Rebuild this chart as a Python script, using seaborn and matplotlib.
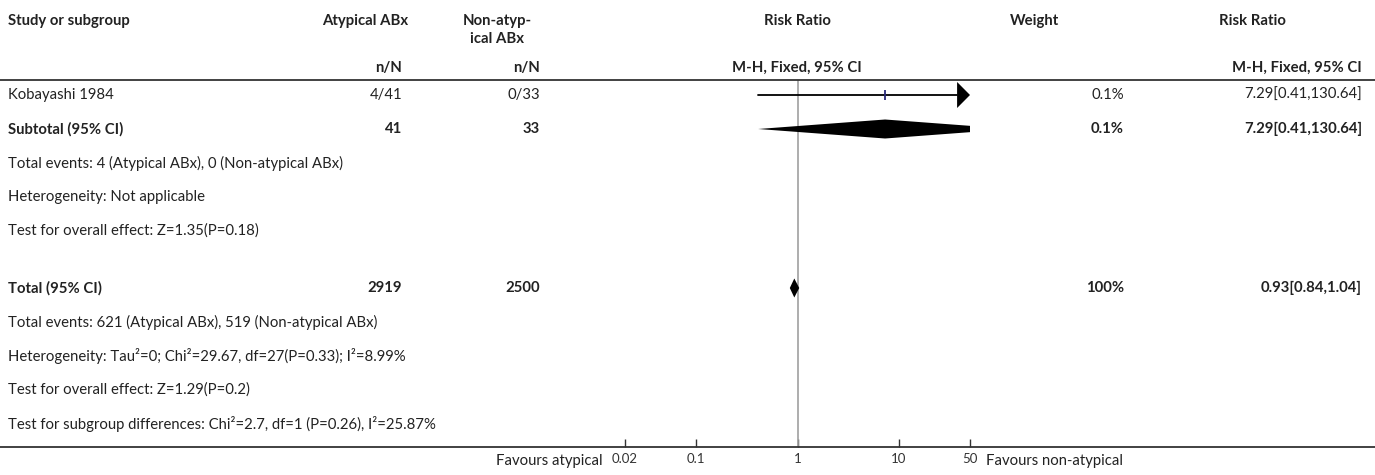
import matplotlib
matplotlib.use("Agg")
import matplotlib.pyplot as plt
import seaborn as sns
import numpy as np
import pandas as pd
from matplotlib.lines import Line2D

sns.set_theme(style="white")
plt.rcParams['font.family'] = ['Lato', 'DejaVu Sans']

# ---------------- data ----------------
studies = ["Kobayashi 1984"]
atyp_events = [4]
atyp_total = [41]
non_events = [0]
non_total = [33]
study_rr = [7.29]
study_lo = [0.41]
study_hi = [130.64]
study_weight = ["0.1%"]

subtotal_n = [41, 33]
subtotal_rr = [7.29, 0.41, 130.64]
subtotal_weight = "0.1%"

total_n = [2919, 2500]
total_rr = [0.93, 0.84, 1.04]
total_weight = "100%"

tick_values = [0.02, 0.1, 1, 10, 50]
tick_labels = ["0.02", "0.1", "1", "10", "50"]

subtotal_notes = ["Total events: 4 (Atypical ABx), 0 (Non-atypical ABx)",
                  "Heterogeneity: Not applicable",
                  "Test for overall effect: Z=1.35(P=0.18)"]
total_notes = ["Total events: 621 (Atypical ABx), 519 (Non-atypical ABx)",
               "Heterogeneity: Tau\u00b2=0; Chi\u00b2=29.67, df=27(P=0.33); I\u00b2=8.99%",
               "Test for overall effect: Z=1.29(P=0.2)",
               "Test for subgroup differences: Chi\u00b2=2.7, df=1 (P=0.26), I\u00b2=25.87%"]

# ---------------- layout ----------------
W, H = 1375, 475
fig = plt.figure(figsize=(W / 100, H / 100), dpi=100)
FS = 10.7
TXT = "#222222"

def ftext(x, y, s, ha="left", bold=False, **kw):
    fig.text(x / W, 1 - y / H, s, ha=ha, va="center", fontsize=FS,
             fontweight="bold" if bold else "normal", color=TXT, **kw)

def hline(y, x0=0, x1=W, lw=1.3):
    fig.add_artist(Line2D([x0 / W, x1 / W], [1 - y / H, 1 - y / H],
                          transform=fig.transFigure, color="#333333", lw=lw))

COL_STUDY = 8
COL_A = 402
COL_B = 540
COL_W = 1124
COL_RR = 1362
PLOT_X0, PLOT_X1 = 625, 970
TOP_Y, BOT_Y = 80, 447

# headers
ftext(COL_STUDY, 21, "Study or subgroup", bold=True)
ftext(365, 21, "Atypical ABx", ha="center", bold=True)
ftext(497, 21, "Non-atyp-", ha="center", bold=True)
ftext(497, 39, "ical ABx", ha="center", bold=True)
ftext(797, 21, "Risk Ratio", ha="center", bold=True)
ftext(1034, 21, "Weight", ha="center", bold=True)
ftext(1252, 21, "Risk Ratio", ha="center", bold=True)
ftext(COL_A, 68, "n/N", ha="right", bold=True)
ftext(COL_B, 68, "n/N", ha="right", bold=True)
ftext(797, 68, "M-H, Fixed, 95% CI", ha="center", bold=True)
ftext(COL_RR, 68, "M-H, Fixed, 95% CI", ha="right", bold=True)
hline(TOP_Y)
hline(BOT_Y)

row_y = [95]
sub_y = 129
sub_note_y = [163, 197, 231]
tot_y = 288
tot_note_y = [322, 356, 390, 424]

for i, s in enumerate(studies):
    ftext(COL_STUDY, row_y[i], s)
    ftext(COL_A, row_y[i], f"{atyp_events[i]}/{atyp_total[i]}", ha="right")
    ftext(COL_B, row_y[i], f"{non_events[i]}/{non_total[i]}", ha="right")
    ftext(COL_W, row_y[i], study_weight[i], ha="right")
    ftext(COL_RR, row_y[i], f"{study_rr[i]}[{study_lo[i]},{study_hi[i]}]", ha="right")

ftext(COL_STUDY, sub_y, "Subtotal (95% CI)", bold=True)
ftext(COL_A, sub_y, str(subtotal_n[0]), ha="right", bold=True)
ftext(COL_B, sub_y, str(subtotal_n[1]), ha="right", bold=True)
ftext(COL_W, sub_y, subtotal_weight, ha="right", bold=True)
ftext(COL_RR, sub_y, f"{subtotal_rr[0]}[{subtotal_rr[1]},{subtotal_rr[2]}]", ha="right", bold=True)
for yy, s in zip(sub_note_y, subtotal_notes):
    ftext(COL_STUDY, yy, s)

ftext(COL_STUDY, tot_y, "Total (95% CI)", bold=True)
ftext(COL_A, tot_y, str(total_n[0]), ha="right", bold=True)
ftext(COL_B, tot_y, str(total_n[1]), ha="right", bold=True)
ftext(COL_W, tot_y, total_weight, ha="right", bold=True)
ftext(COL_RR, tot_y, f"{total_rr[0]}[{total_rr[1]},{total_rr[2]}]", ha="right", bold=True)
for yy, s in zip(tot_note_y, total_notes):
    ftext(COL_STUDY, yy, s)

ftext(PLOT_X0 - 22, 461, "Favours atypical", ha="right")
ftext(PLOT_X1 + 16, 461, "Favours non-atypical", ha="left")

# ---------------- forest axes ----------------
ax = fig.add_axes([PLOT_X0 / W, 1 - BOT_Y / H, (PLOT_X1 - PLOT_X0) / W, (BOT_Y - TOP_Y) / H])
ax.set_xscale("log")
xmin, xmax = tick_values[0], tick_values[-1]
ax.set_xlim(xmin, xmax)
ax.set_ylim(BOT_Y, TOP_Y)
ax.patch.set_alpha(0)
for sp in ["top", "left", "right", "bottom"]:
    ax.spines[sp].set_visible(False)
ax.set_yticks([])
ax.set_xticks(tick_values)
ax.set_xticklabels(tick_labels)
ax.minorticks_off()
ax.tick_params(axis="x", direction="in", length=6, width=1, color="#333333",
               labelsize=9.5, labelcolor="#333333", pad=4, bottom=True)
ax.axvline(1, color="#a0a0a0", lw=1.2, zorder=1)

df = pd.DataFrame({"rr": study_rr, "lo": study_lo, "hi": study_hi, "y": row_y})
for _, r in df.iterrows():
    right = min(r.hi, xmax)
    arrow_base = xmax / 1.34 if r.hi > xmax else right
    ax.plot([max(r.lo, xmin), arrow_base], [r.y, r.y], color="black", lw=1.3, zorder=3)
    if r.hi > xmax:
        ax.fill([xmax / 1.34, xmax, xmax / 1.34], [r.y - 13, r.y, r.y + 13],
                color="black", lw=0, zorder=3, clip_on=False)
sns.scatterplot(data=df, x="rr", y="y", marker="|", s=55, color="#2b2b7a",
                linewidth=1.3, ax=ax, zorder=4, legend=False)

def diamond(est, lo, hi, y, h=9.5):
    ax.fill([lo, est, hi, est], [y, y - h, y, y + h], color="black", lw=0, zorder=3)

diamond(subtotal_rr[0], subtotal_rr[1], subtotal_rr[2], sub_y)
diamond(total_rr[0], total_rr[1], total_rr[2], tot_y)
ax.set_xlabel("")
ax.set_ylabel("")

fig.savefig("out.png", dpi=100)
